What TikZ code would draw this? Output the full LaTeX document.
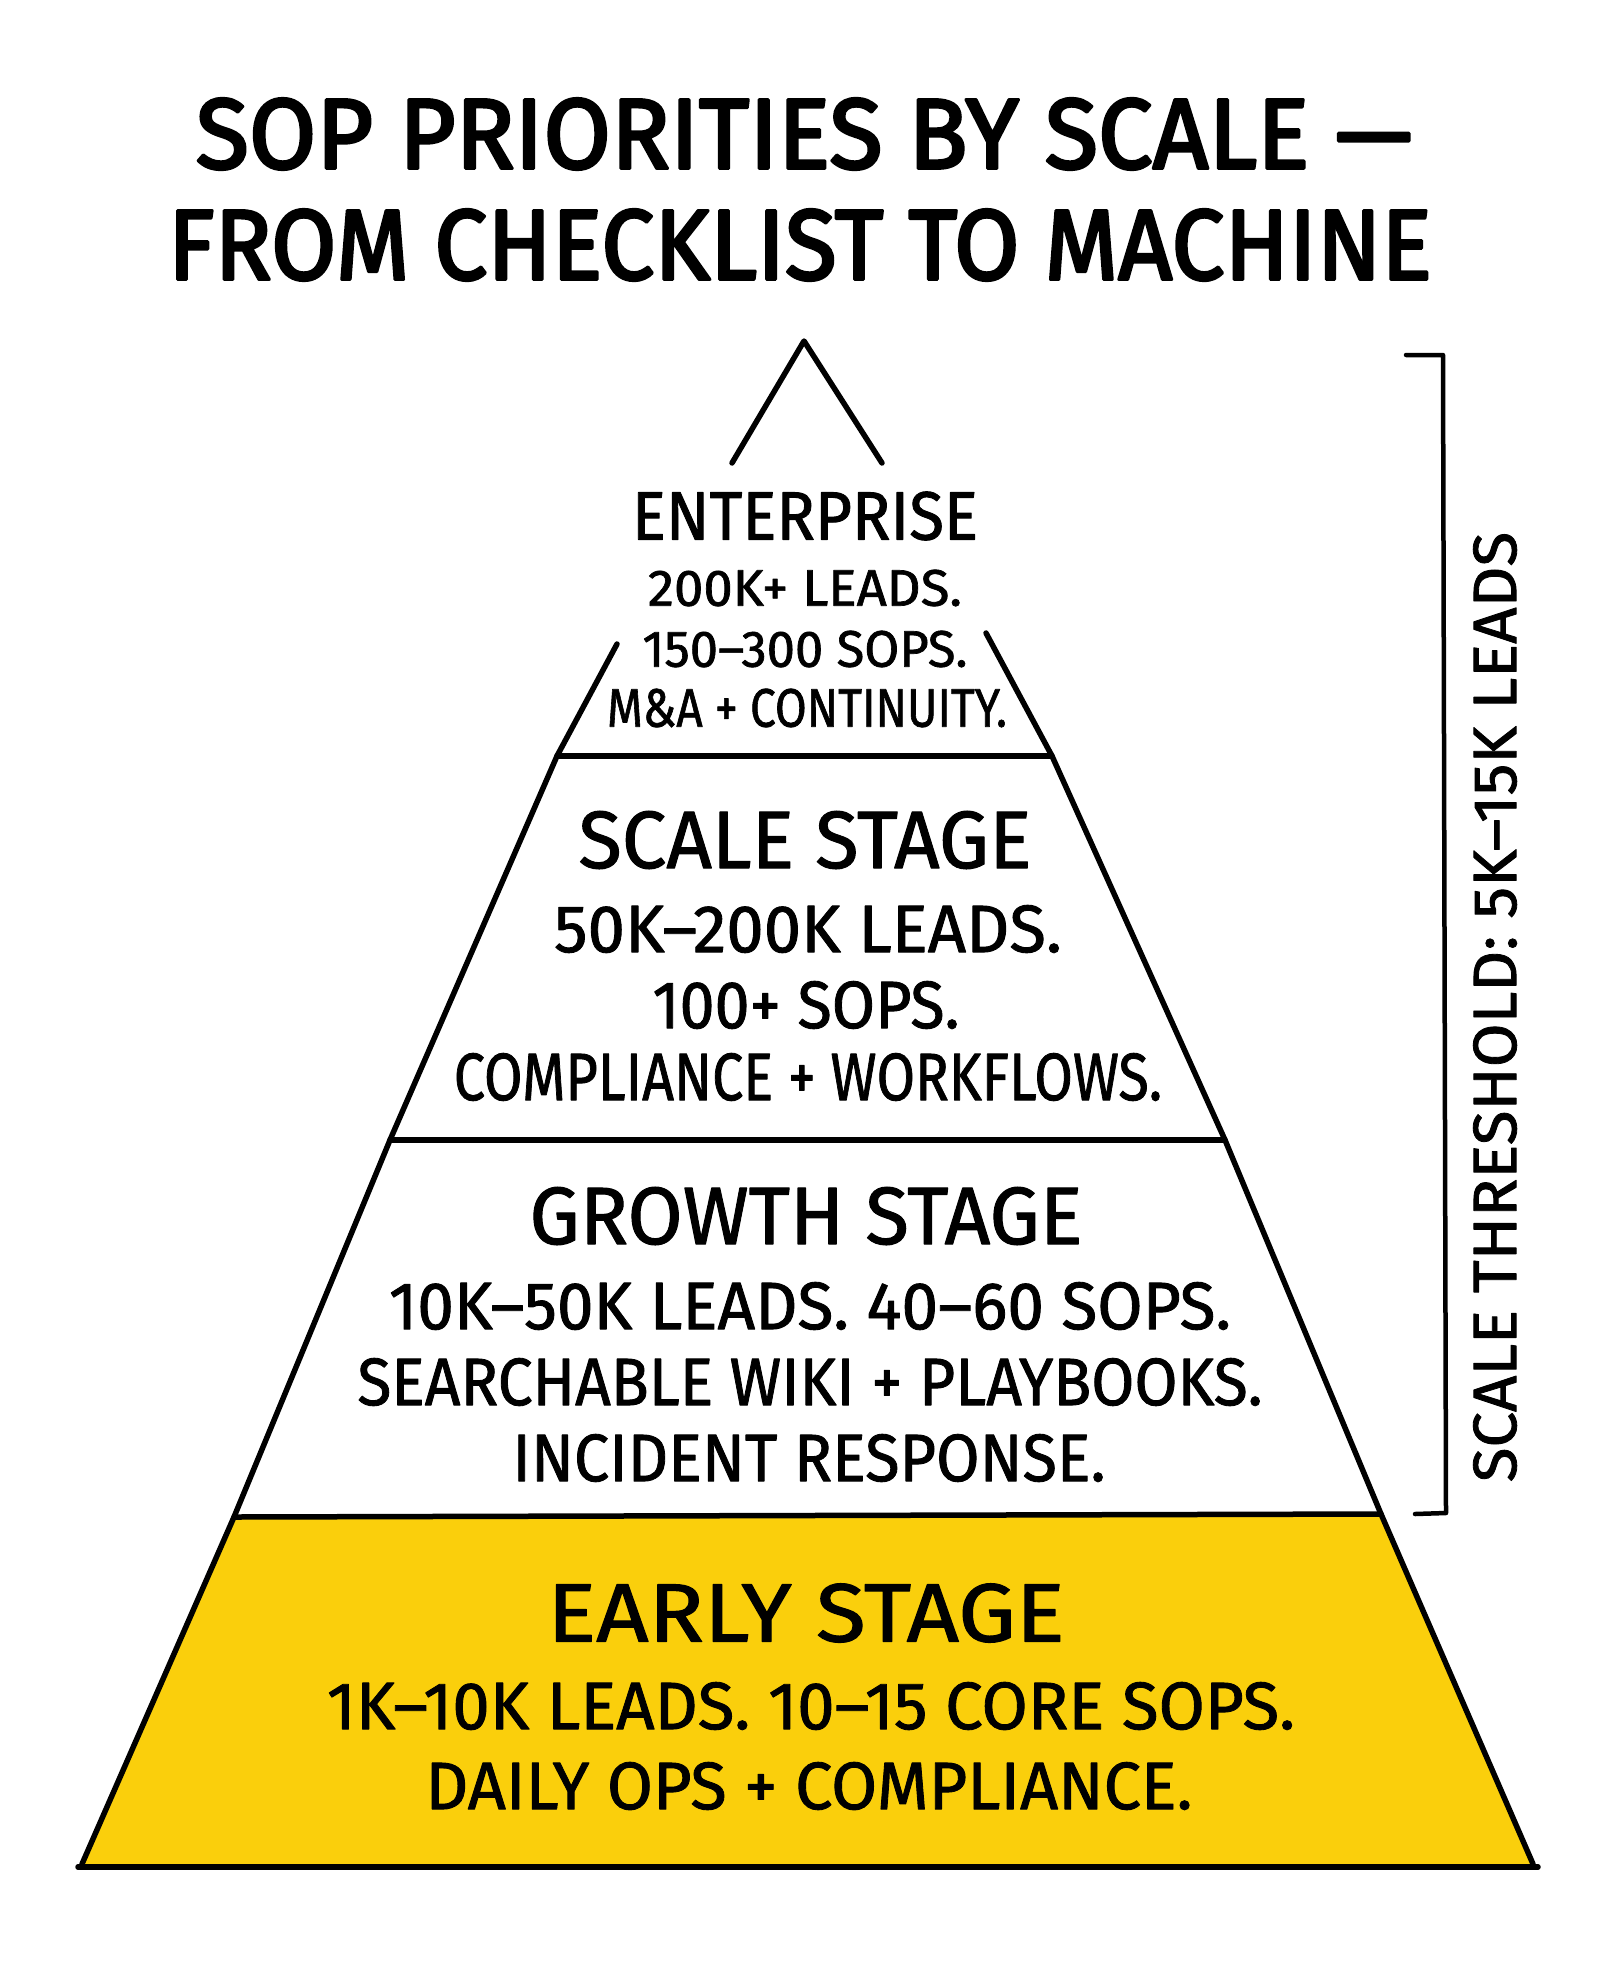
\documentclass[tikz,border=0pt]{standalone}
\usepackage{fontspec}
\usepackage{graphicx}
\setmainfont{Fira Sans}
\newfontfamily\bodyfont{Fira Sans}[FakeBold=1.3]
\newfontfamily\titlefont{Fira Sans}[FakeBold=3]
\definecolor{tieryellow}{RGB}{250,207,12}
\newcommand{\fitl}[3]{\resizebox{#1pt}{#2pt}{#3}}
\begin{document}
\begin{tikzpicture}[x=1pt,y=-1pt,line cap=round,line join=round,
  outline/.style={draw=black,line width=5.5pt},
  lbl/.style={inner sep=0pt,anchor=center,text=black,font=\bodyfont}]
\useasboundingbox (0,0) rectangle (1600,1986);
\fill[white] (0,0) rectangle (1600,1986);

% yellow base tier
\fill[tieryellow] (234,1517) -- (1381,1514) -- (1533,1866) -- (82,1866) -- cycle;

% pyramid outline
\coordinate (l0) at (617,644);
\coordinate (l1) at (557,756);
\coordinate (l2) at (390,1140);
\coordinate (l3) at (234,1517);
\coordinate (l4) at (82,1864);
\coordinate (r0) at (986,633);
\coordinate (r1) at (1052,756);
\coordinate (r2) at (1225,1140);
\coordinate (r3) at (1381,1514);
\coordinate (r4) at (1533,1864);
\draw[outline] (l0) -- (l1) -- (l2) -- (l3) -- (l4);
\draw[outline] (r0) -- (r1) -- (r2) -- (r3) -- (r4);
\draw[outline] (l1) -- (r1);
\draw[outline] (l2) -- (r2);
\draw[outline] (l3) -- (r3);
\draw[outline] (78,1867) -- (1538,1867);

% apex
\coordinate (a1) at (732,463);
\coordinate (a2) at (804,341);
\coordinate (a3) at (882,463);
\draw[outline] (a1) -- (a2) -- (a3);

% bracket
\coordinate (b1) at (1406,355);
\coordinate (b2) at (1443,355);
\coordinate (b3) at (1446,1513);
\coordinate (b4) at (1415,1514);
\draw[outline,line width=4.5pt] (b1) -- (b2) -- (b3) -- (b4);
\node[lbl,rotate=90] (thr) at (1495,1007) {\fitl{950}{43}{SCALE THRESHOLD: 5K–15K LEADS}};

% title
\node[lbl,font=\titlefont] (t1) at (804,134) {\fitl{1216}{70}{SOP PRIORITIES BY SCALE —}};
\node[lbl,font=\titlefont] (t2) at (800,245) {\fitl{1263}{70}{FROM CHECKLIST TO MACHINE}};

% enterprise
\node[lbl] (e0) at (805,516) {\fitl{346}{48}{ENTERPRISE}};
\node[lbl] (e1) at (805,588) {\fitl{314}{36}{200K+ LEADS.}};
\node[lbl] (e2) at (805,649) {\fitl{325}{36}{150–300 SOPS.}};
\node[lbl] (e3) at (807,708) {\fitl{400}{38}{M\&A + CONTINUITY.}};

% scale stage
\node[lbl] (s0) at (805,840) {\fitl{453}{57}{SCALE STAGE}};
\node[lbl] (s1) at (808,929) {\fitl{508}{47}{50K–200K LEADS.}};
\node[lbl] (s2) at (806,1005) {\fitl{307}{47}{100+ SOPS.}};
\node[lbl] (s3) at (808,1077) {\fitl{708}{47}{COMPLIANCE + WORKFLOWS.}};

% growth stage
\node[lbl] (g0) at (806,1216) {\fitl{553}{57}{GROWTH STAGE}};
\node[lbl] (g1) at (810,1306) {\fitl{842}{47}{10K–50K LEADS. 40–60 SOPS.}};
\node[lbl] (g2) at (810,1382) {\fitl{905}{47}{SEARCHABLE WIKI + PLAYBOOKS.}};
\node[lbl] (g3) at (809,1458) {\fitl{593}{47}{INCIDENT RESPONSE.}};

% early stage
\node[lbl] (y0) at (806,1613) {\fitl{517}{58}{EARLY STAGE}};
\node[lbl] (y1) at (811,1706) {\fitl{968}{47}{1K–10K LEADS. 10–15 CORE SOPS.}};
\node[lbl] (y2) at (809,1786) {\fitl{767}{47}{DAILY OPS + COMPLIANCE.}};
\end{tikzpicture}
\end{document}
